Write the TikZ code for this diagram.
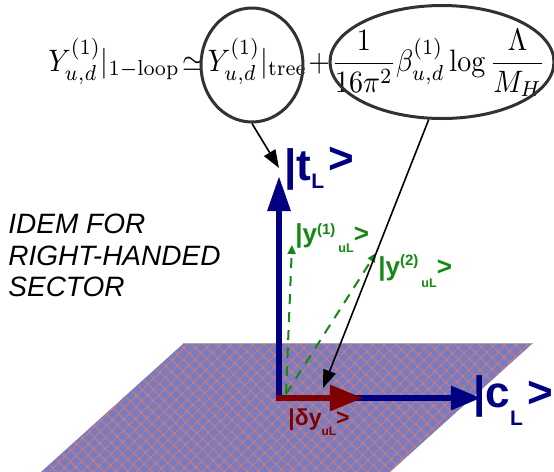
\documentclass[tikz,border=0pt]{standalone}
\usepackage{amsmath}
\usepackage{fontspec}
\setsansfont{Liberation Sans}
\usetikzlibrary{arrows.meta,shapes.geometric,patterns.meta}

\definecolor{ketblue}{RGB}{0,0,128}
\definecolor{ketred}{RGB}{128,0,0}
\definecolor{ketgreen}{RGB}{20,135,20}
\definecolor{planeblue}{RGB}{122,122,190}
\definecolor{planehatch}{RGB}{205,125,125}
\definecolor{ringgray}{RGB}{50,50,50}

\begin{document}
\begin{tikzpicture}[x=0.5pt,y=-0.5pt,
  ring/.style={ellipse, draw=ringgray, line width=1.5pt, inner sep=0pt},
  pointer/.style={black, line width=0.8pt, -{Triangle[length=9pt,width=6.5pt]}},
  basis/.style={ketblue, line width=3pt, line cap=rect},
  ketbig/.style={anchor=base west, inner sep=0pt, font=\sffamily\bfseries\fontsize{22}{24}\selectfont},
  ketsmall/.style={anchor=base west, inner sep=0pt, text=ketgreen, font=\sffamily\bfseries\fontsize{13}{15}\selectfont},
  greendash/.style={ketgreen, line width=1pt, dash pattern=on 5pt off 4pt, -{Triangle[length=4.5pt,width=4pt]}}]
\useasboundingbox (0,0) rectangle (554,472);

% the plane
\fill[planeblue] (184,343) -- (533,343) -- (390,472) -- (41,472) -- cycle;
\fill[pattern={Hatch[angle=45,distance=4pt,line width=0.6pt]}, pattern color=planehatch]
  (184,343) -- (533,343) -- (390,472) -- (41,472) -- cycle;
\draw[gray!70, line width=0.4pt] (184,343) -- (533,343);

% vectors
\coordinate (O) at (279,398);
\coordinate (tL) at (279,176);
\coordinate (cL) at (481,398);
\coordinate (r0) at (276,398);
\coordinate (dy) at (363,398);
\coordinate (g0) at (286,394);
\coordinate (y1) at (292,245);
\coordinate (y2) at (376,253);

\draw[basis, -{Triangle[length=17.5pt,width=11pt]}] (O) -- (tL);
\draw[basis, -{Triangle[length=15pt,width=11.5pt]}] (O) -- (cL);
\draw[greendash] (g0) -- (y1);
\draw[greendash] (g0) -- (y2);
\draw[ketred, line width=3pt, -{Triangle[length=16.5pt,width=12.5pt]}] (r0) -- (dy);

\node[ketbig, text=ketblue] (tlabel) at (284,180)
  {|t\raisebox{-4pt}{\fontsize{10.5}{12}\selectfont L}\hspace{2pt}\raisebox{3.5pt}{>}};
\node[ketbig, text=ketblue] (clabel) at (473,407)
  {|c\raisebox{-9pt}{\fontsize{10.5}{12}\selectfont L}\hspace{2pt}>};
\node[anchor=base west, inner sep=0pt, text=ketred, font=\sffamily\bfseries\fontsize{11.5}{13}\selectfont] (dylabel) at (288,425)
  {|δy\raisebox{-5pt}{\fontsize{6}{7}\selectfont uL}>};
\node[ketsmall] (y1label) at (295,242)
  {|y\raisebox{4pt}{\fontsize{7.5}{9}\selectfont(1)}\hspace{1.5pt}\raisebox{-5pt}{\fontsize{6.3}{7}\selectfont uL}>};
\node[ketsmall] (y2label) at (378,275)
  {|y\raisebox{5pt}{\fontsize{7.5}{9}\selectfont(2)}\hspace{1.5pt}\raisebox{-6pt}{\fontsize{6.3}{7}\selectfont uL}>};

\node[anchor=north west, inner sep=0pt, align=left, font=\sffamily\itshape\fontsize{14}{15.75}\selectfont] (idem) at (8,214)
  {IDEM FOR\\RIGHT-HANDED\\SECTOR};

% the equation and its two parts
\node[anchor=base west, inner sep=0pt] (eq) at (48,71)
  {\scalebox{1.4}[1.55]{\thickmuskip=2mu \medmuskip=1mu
   $\displaystyle Y^{(1)}_{u,d}|_{1-\mathrm{loop}} \simeq Y^{(1)}_{u,d}|_{\mathrm{tree}} + \frac{1}{16\pi^2}\beta^{(1)}_{u,d}\log\frac{\Lambda}{M_H}$}};
\node[ring, minimum width=51pt, minimum height=57pt] (treering) at (252,65) {};
\node[ring, minimum width=112pt, minimum height=56.5pt] (logring) at (442,62) {};

\coordinate (tptr) at (279,168);
\coordinate (dptr) at (323,388);
\draw[pointer] (treering.south) -- (tptr);
\draw[pointer] (logring.257) -- (dptr);
\end{tikzpicture}
\end{document}
